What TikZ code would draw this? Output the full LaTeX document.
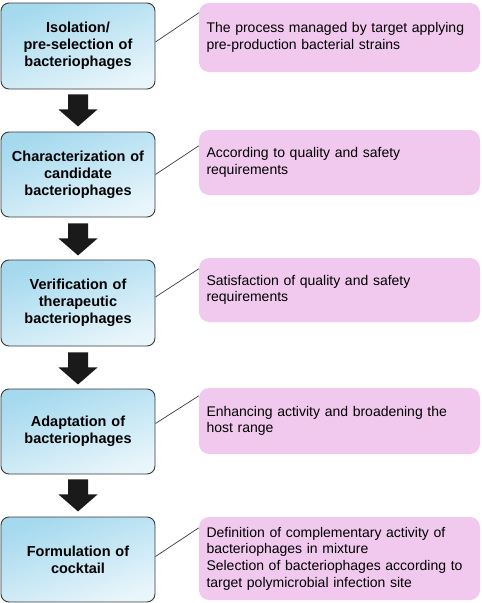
\documentclass[tikz,border=0pt]{standalone}
\usepackage{fontspec}
\setmainfont{Liberation Sans}
\usetikzlibrary{positioning}
\definecolor{blueA}{HTML}{A4D9EE}
\definecolor{blueB}{HTML}{E8F5FB}
\definecolor{pinkF}{HTML}{F1C9EF}
\definecolor{edgeC}{HTML}{3A3A3A}
\definecolor{arrC}{HTML}{1A1A1A}
\tikzset{
  stagebox/.style={draw=edgeC, line width=0.9pt, rounded corners=8pt,
    top color=blueA, bottom color=blueB, shading angle=20,
    minimum width=154pt, text width=148pt, align=center, inner sep=0pt,
    font=\bfseries\fontsize{14.5}{17}\selectfont},
  notebox/.style={fill=pinkF, draw=none, rounded corners=10pt,
    inner xsep=7.5pt, inner ysep=0pt, text width=266pt, align=left,
    font=\fontsize{14}{16.7}\selectfont},
  link/.style={draw=edgeC, line width=0.7pt},
  blockarrow/.pic={\fill[arrC] (-10,0) -- (10,0) -- (10,15) -- (19.5,15) -- (0,32) -- (-19.5,15) -- (-10,15) -- cycle;}
}
\begin{document}
\begin{tikzpicture}[x=1pt,y=-1pt]
\useasboundingbox (0,0) rectangle (482,603);
% stage boxes
\node[stagebox, minimum height=86pt] (b1) at (78,46) {Isolation/\\pre-selection of\\bacteriophages};
\node[stagebox, minimum height=85pt] (b2) at (78,174.5) {Characterization of\\candidate\\bacteriophages};
\node[stagebox, minimum height=86pt] (b3) at (78,303) {Verification of\\therapeutic\\bacteriophages};
\node[stagebox, minimum height=85pt] (b4) at (78,431.5) {Adaptation of\\bacteriophages};
\node[stagebox, minimum height=85pt] (b5) at (78,559.5) {Formulation of\\cocktail};
% note boxes
\node[notebox, minimum height=69pt] (p1) at (339.5,37.5) {The process managed by target applying\\pre-production bacterial strains};
\node[notebox, minimum height=65pt] (p2) at (339.5,162.5) {According to quality and safety\\requirements};
\node[notebox, minimum height=64pt] (p3) at (339.5,290) {Satisfaction of quality and safety\\requirements};
\node[notebox, minimum height=66pt] (p4) at (339.5,421) {Enhancing activity and broadening the\\host range};
\node[notebox, minimum height=83pt] (p5) at (339.5,558.5) {Definition of complementary activity of\\bacteriophages in mixture\\Selection of bacteriophages according to\\target polymicrobial infection site};
% connectors
\draw[link] ([yshift=4pt]b1.east) -- ([yshift=-10pt]p1.north west);
\draw[link] ([yshift=0pt]b2.east) -- ([yshift=-16pt]p2.north west);
\draw[link] ([yshift=6pt]b3.east) -- ([yshift=-11pt]p3.north west);
\draw[link] ([yshift=8pt]b4.east) -- ([yshift=-8pt]p4.north west);
\draw[link] ([yshift=3pt]b5.east) -- ([yshift=-11pt]p5.north west);
% block arrows
\pic at ([yshift=-5pt]b1.south) {blockarrow};
\pic at ([yshift=-6pt]b2.south) {blockarrow};
\pic at ([yshift=-6pt]b3.south) {blockarrow};
\pic at ([yshift=-5pt]b4.south) {blockarrow};
\end{tikzpicture}
\end{document}
